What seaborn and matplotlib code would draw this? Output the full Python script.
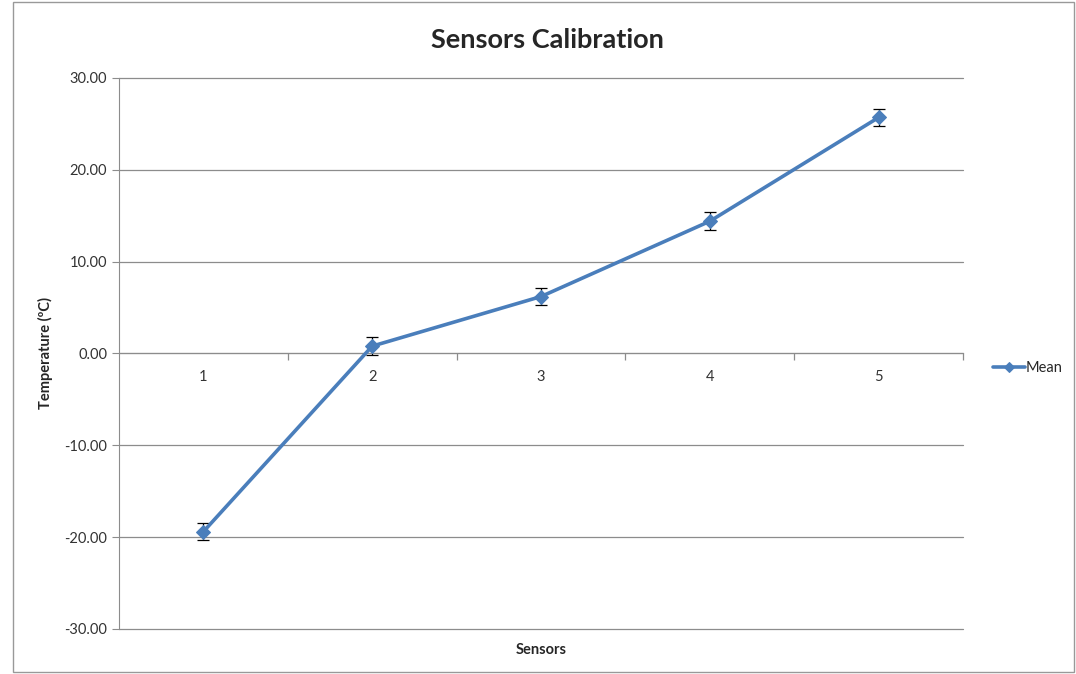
import numpy as np
import pandas as pd
import seaborn as sns
from matplotlib import pyplot as plt

# data
sensors = [1, 2, 3, 4, 5]
mean_temp = [-19.4, 0.8, 6.2, 14.4, 25.7]
err = [0.9, 1.0, 0.9, 1.0, 0.9]
y_ticks = [-30, -20, -10, 0, 10, 20, 30]

df = pd.DataFrame({'Sensors': sensors, 'Mean': mean_temp})

sns.set_style('white')
plt.rcParams['font.family'] = ['Lato', 'DejaVu Sans']

fig = plt.figure(figsize=(10.76, 6.74), dpi=100)
ax = fig.add_axes([0.1106, 0.0668, 0.7844, 0.8175])

blue = '#4A7EBB'
ax.errorbar(df['Sensors'], df['Mean'], yerr=err, fmt='none',
            ecolor='black', elinewidth=0.9, capsize=4, capthick=0.9, zorder=2)
sns.lineplot(data=df, x='Sensors', y='Mean', ax=ax, color=blue,
             linewidth=2.6, marker='D', markersize=7, markeredgecolor=blue,
             label='Mean', zorder=3)

ax.set_xlim(0.5, 5.5)
ax.set_ylim(-30, 30)
ax.set_yticks(y_ticks)
ax.set_yticklabels([f'{v:.2f}' for v in y_ticks], fontsize=10.5, color='#333333')
ax.yaxis.grid(True, color='#8c8c8c', linewidth=0.9)
for gl in ax.get_ygridlines():
    gl.set_clip_on(False)
ax.set_axisbelow(True)

# category axis crossing at zero, labels under the line
ax.spines['bottom'].set_position(('data', 0))
ax.spines['bottom'].set_color('#8c8c8c')
ax.spines['left'].set_color('#8c8c8c')
ax.spines['top'].set_visible(False)
ax.spines['right'].set_visible(False)
ax.set_xticks(sensors)
ax.set_xticklabels([str(s) for s in sensors], fontsize=10.5, color='#333333')
ax.set_xticks(np.arange(1.5, 6, 1), minor=True)
ax.tick_params(axis='x', which='major', length=0, pad=12)
ax.tick_params(axis='x', which='minor', bottom=True, length=5, width=0.9,
               color='#8c8c8c', direction='out')
ax.tick_params(axis='y', length=5, color='#8c8c8c', direction='out', left=True)

ax.set_xlabel('')
ax.set_ylabel('Temperature (ºC)', fontsize=10.5, fontweight='bold', labelpad=8)
fig.text(0.503, 0.035, 'Sensors', ha='center', va='center',
         fontsize=10.5, fontweight='bold')
fig.text(0.509, 0.94, 'Sensors Calibration', ha='center', va='center',
         fontsize=19.5, fontweight='bold')

leg = ax.legend(loc='center left', bbox_to_anchor=(1.015, 0.474), frameon=False,
                fontsize=10.5, handlelength=2.2, handletextpad=0.0,
                borderaxespad=0.8, markerscale=0.75)

# chart border
fig.patches.append(plt.Rectangle((0.012, 0.003), 0.986, 0.994, transform=fig.transFigure,
                                 fill=False, edgecolor='#999999', linewidth=1))

fig.savefig('out.png', dpi=100)
